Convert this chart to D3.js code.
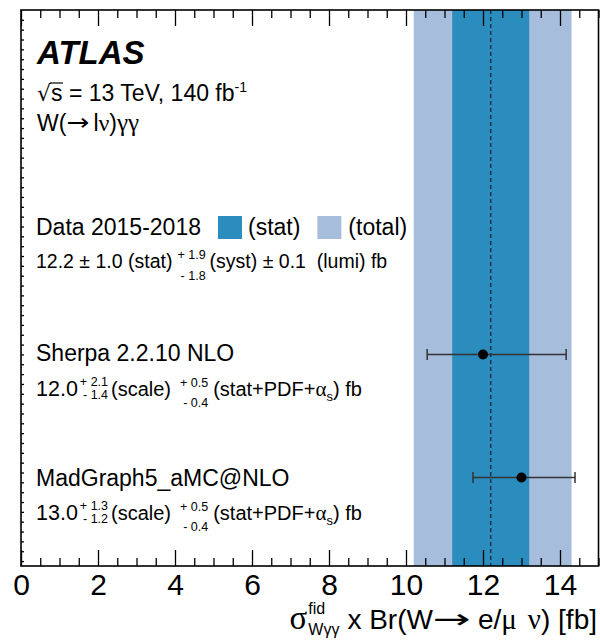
<!DOCTYPE html>
<html lang="en">
<head>
<meta charset="utf-8">
<title>W(lv)yy fiducial cross section</title>
<script src="https://cdn.jsdelivr.net/npm/d3@7"></script>
<style>
  body { margin: 0; background: #fff; }
  text { font-family: "Liberation Sans", Arial, Helvetica, sans-serif; fill: #000; white-space: pre; }
</style>
</head>
<body>
<svg width="600" height="641"></svg>
<script>
// values
const entryLabels = ["Data 2015-2018", "Sherpa 2.2.10 NLO", "MadGraph5_aMC@NLO"];
const dataCentral = 12.2;
const dataStat = 1.0;
const dataSyst = ["1.9", "1.8"];
const dataLumi = "0.1";
const totalBand = [10.2, 14.3];
const predCentral = [12.0, 13.0];
const predErrDown = [1.45, 1.26];
const predErrUp = [2.16, 1.39];
const predScale = [["2.1", "1.4"], ["1.3", "1.2"]];
const predOther = [["0.5", "0.4"], ["0.5", "0.4"]];
const xMajor = [0, 2, 4, 6, 8, 10, 12, 14];

const svg = d3.select("svg");
const plotLeft = 21, plotRight = 598.5, plotTop = 10, plotBottom = 566;
const SERIF = "'Liberation Serif', 'DejaVu Serif', serif";
const ARROWFONT = "'DejaVu Sans', sans-serif";

const x = d3.scaleLinear().domain([0, 15]).range([plotLeft, plotRight]);
// entry index -> vertical position
const y = d3.scaleLinear().domain([-1.8, 2.72]).range([plotTop, plotBottom]);

// bands
svg.append("rect")
  .attr("x", x(totalBand[0])).attr("y", plotTop)
  .attr("width", x(totalBand[1]) - x(totalBand[0])).attr("height", plotBottom - plotTop)
  .attr("fill", "#a6bddb");
svg.append("rect")
  .attr("x", x(dataCentral - dataStat)).attr("y", plotTop)
  .attr("width", x(dataCentral + dataStat) - x(dataCentral - dataStat)).attr("height", plotBottom - plotTop)
  .attr("fill", "#2b8cbe");
svg.append("line")
  .attr("x1", x(dataCentral)).attr("x2", x(dataCentral))
  .attr("y1", plotTop).attr("y2", plotBottom)
  .attr("stroke", "#17304a").attr("stroke-width", 1.5)
  .attr("stroke-dasharray", "4,3");

// predictions
const preds = predCentral.map((c, i) => ({ i: i + 1, c: c, lo: c - predErrDown[i], hi: c + predErrUp[i] }));
const pg = svg.append("g").attr("stroke", "#333").attr("stroke-width", 1.5);
pg.selectAll(".bar").data(preds).enter().append("line")
  .attr("x1", d => x(d.lo)).attr("x2", d => x(d.hi))
  .attr("y1", d => y(d.i)).attr("y2", d => y(d.i));
pg.selectAll(".capl").data(preds).enter().append("line")
  .attr("x1", d => x(d.lo)).attr("x2", d => x(d.lo))
  .attr("y1", d => y(d.i) - 5.5).attr("y2", d => y(d.i) + 5.5);
pg.selectAll(".caph").data(preds).enter().append("line")
  .attr("x1", d => x(d.hi)).attr("x2", d => x(d.hi))
  .attr("y1", d => y(d.i) - 5.5).attr("y2", d => y(d.i) + 5.5);
svg.selectAll(".pt").data(preds).enter().append("circle")
  .attr("cx", d => x(d.c)).attr("cy", d => y(d.i)).attr("r", 5)
  .attr("fill", "#000");

// axes
const minor = d3.range(0, 15.01, 0.5).filter(v => v % 2 !== 0);
const bottomAxis = svg.append("g").attr("transform", `translate(0,${plotBottom})`)
  .call(d3.axisBottom(x).tickValues(xMajor).tickSizeInner(-16).tickSizeOuter(0).tickPadding(8));
bottomAxis.selectAll("text").style("font-size", "30px").attr("fill", "#000");
svg.append("g").attr("transform", `translate(0,${plotBottom})`)
  .call(d3.axisBottom(x).tickValues(minor).tickSize(-8).tickFormat(""));
svg.append("g").attr("transform", `translate(0,${plotTop})`)
  .call(d3.axisTop(x).tickValues(xMajor).tickSize(-16).tickFormat(""));
svg.append("g").attr("transform", `translate(0,${plotTop})`)
  .call(d3.axisTop(x).tickValues(minor).tickSize(-8).tickFormat(""));
svg.append("g").attr("transform", `translate(${plotLeft},0)`)
  .call(d3.axisLeft(y).tickValues(d3.range(-1.72, 2.72, 0.08)).tickSize(-3).tickFormat(""));
svg.selectAll(".domain").remove();
svg.selectAll(".tick line").attr("stroke", "#000").attr("stroke-width", 1.3);

svg.append("rect")
  .attr("x", plotLeft).attr("y", plotTop)
  .attr("width", plotRight - plotLeft).attr("height", plotBottom - plotTop)
  .attr("fill", "none").attr("stroke", "#000").attr("stroke-width", 1.6);

// text helpers
function put(px, py, size, str, opts) {
  opts = opts || {};
  const t = svg.append("text").attr("x", px).attr("y", py)
    .style("font-size", size + "px").text(str);
  if (opts.weight) t.style("font-weight", opts.weight);
  if (opts.italic) t.style("font-style", "italic");
  if (opts.family) t.style("font-family", opts.family);
  if (opts.len) t.attr("textLength", opts.len).attr("lengthAdjust", "spacingAndGlyphs");
  return t;
}
// lays out a line of text pieces, superscripts, subscripts and stacked sup/sub pairs
function richLine(px, py, parts) {
  let cx = px;
  const nodes = [];
  parts.forEach(p => {
    cx += p.gap || 0;
    if (p.sup !== undefined) {
      const a = put(cx, py + p.supDy, p.size, p.sup, p);
      const b = put(cx, py + p.subDy, p.size, p.sub, p);
      const wa = a.node().getComputedTextLength(), wb = b.node().getComputedTextLength();
      const w = Math.max(wa, wb);
      if (p.align !== "left") {
        a.attr("x", cx + w - wa);
        b.attr("x", cx + w - wb);
      }
      nodes.push(a, b);
      cx += w;
    } else {
      const t = put(cx, py + (p.dy || 0), p.size, p.text, p);
      nodes.push(t);
      cx += p.len || t.node().getComputedTextLength();
    }
  });
  return { end: cx, nodes: nodes };
}

// header
put(37, 64, 33, "ATLAS", { weight: "bold", italic: true });
const sq = richLine(37, 101, [
  { text: "\u221A", size: 22, family: ARROWFONT },
  { text: "s = 13 TeV, 140 fb", size: 23 },
  { text: "-1", size: 14, dy: -9 }
]);
// bar of the radical over the "s"
svg.append("line")
  .attr("x1", 37 + sq.nodes[0].node().getComputedTextLength() - 1)
  .attr("x2", 37 + sq.nodes[0].node().getComputedTextLength() + 12)
  .attr("y1", 83).attr("y2", 83).attr("stroke", "#000").attr("stroke-width", 1.2);
richLine(37, 131, [
  { text: "W(", size: 23 },
  { text: "\u2192", size: 23, family: ARROWFONT, len: 23, dy: -1 },
  { gap: 4, text: "l", size: 23 },
  { text: "\u03BD", size: 24, family: SERIF },
  { text: ")", size: 23 },
  { text: "\u03B3\u03B3", size: 25, family: SERIF }
]);

// data entry + legend
const tx = 36;
const dEnd = put(tx, 235, 23, entryLabels[0]).node().getComputedTextLength() + tx;
let lx = dEnd + 17;
svg.append("rect").attr("x", lx).attr("y", 216).attr("width", 24).attr("height", 23).attr("fill", "#2b8cbe");
lx += 30;
lx += put(lx, 235, 23, "(stat)").node().getComputedTextLength() + 17;
svg.append("rect").attr("x", lx).attr("y", 216).attr("width", 24).attr("height", 23).attr("fill", "#a6bddb");
put(lx + 31, 235, 23, "(total)");

richLine(tx, 268, [
  { text: `${dataCentral.toFixed(1)} \u00B1 ${dataStat.toFixed(1)} (stat)`, size: 19.5 },
  { gap: 5, sup: "+ " + dataSyst[0], sub: "- " + dataSyst[1], size: 12.5, supDy: -9, subDy: 12 },
  { gap: 4, text: `(syst) \u00B1 ${dataLumi}  (lumi) fb`, size: 19.5 }
]);

// prediction entries
const titleY = [361, 486];
const lineY = [396, 520];
preds.forEach((d, k) => {
  put(tx, titleY[k], 23, entryLabels[k + 1]);
  richLine(tx, lineY[k], [
    { text: predCentral[k].toFixed(1), size: 21.5 },
    { gap: 2, sup: "+ " + predScale[k][0], sub: "- " + predScale[k][1], size: 12.5, supDy: -10, subDy: 3 },
    { gap: 3, text: "(scale)", size: 20 },
    { gap: 9, sup: "+ " + predOther[k][0], sub: "- " + predOther[k][1], size: 12.5, supDy: -9, subDy: 11 },
    { gap: 5, text: "(stat+PDF+", size: 20 },
    { text: "\u03B1", size: 21, family: SERIF },
    { text: "s", size: 13, dy: 5 },
    { text: ") fb", size: 20 }
  ]);
});

// x axis title, laid out from the left then shifted to end at the frame edge
const title = richLine(0, 629, [
  { text: "\u03C3", size: 33, family: SERIF },
  { gap: 1, sup: "fid", sub: "W\u03B3\u03B3", size: 16, supDy: -15, subDy: 6, align: "left" },
  { gap: 8, text: "x Br(W", size: 28 },
  { text: "\u2192", size: 27, family: ARROWFONT, len: 38, dy: -1 },
  { gap: 7, text: "e/", size: 28 },
  { text: "\u03BC", size: 29, family: SERIF },
  { gap: 11, text: "\u03BD", size: 29, family: SERIF },
  { text: ") [fb]", size: 28 }
]);
const shift = 597 - title.end;
title.nodes.forEach(n => n.attr("x", +n.attr("x") + shift));
</script>
</body>
</html>
